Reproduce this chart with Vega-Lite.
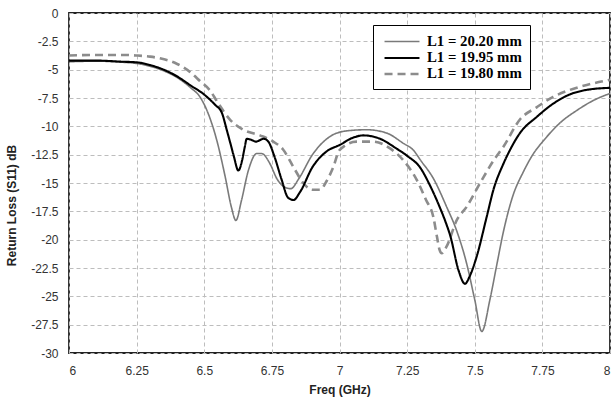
{
  "$schema": "https://vega.github.io/schema/vega-lite/v6.json",
  "width": 541,
  "height": 340,
  "autosize": {"type": "none"},
  "padding": {"left": 69, "top": 13, "right": 4, "bottom": 50},
  "background": "white",
  "config": {
    "view": {"stroke": "#222", "strokeWidth": 1.8},
    "font": "Liberation Sans"
  },
  "data": {
    "values": [
      {"f": 6.0, "db": -4.3, "s": "L1 = 20.20 mm"},
      {"f": 6.1, "db": -4.25, "s": "L1 = 20.20 mm"},
      {"f": 6.2, "db": -4.35, "s": "L1 = 20.20 mm"},
      {"f": 6.25, "db": -4.45, "s": "L1 = 20.20 mm"},
      {"f": 6.3, "db": -4.7, "s": "L1 = 20.20 mm"},
      {"f": 6.35, "db": -5.1, "s": "L1 = 20.20 mm"},
      {"f": 6.4, "db": -5.7, "s": "L1 = 20.20 mm"},
      {"f": 6.45, "db": -6.6, "s": "L1 = 20.20 mm"},
      {"f": 6.484, "db": -7.4, "s": "L1 = 20.20 mm"},
      {"f": 6.51, "db": -8.6, "s": "L1 = 20.20 mm"},
      {"f": 6.546, "db": -11.2, "s": "L1 = 20.20 mm"},
      {"f": 6.577, "db": -14.4, "s": "L1 = 20.20 mm"},
      {"f": 6.6, "db": -17.1, "s": "L1 = 20.20 mm"},
      {"f": 6.617, "db": -18.3, "s": "L1 = 20.20 mm"},
      {"f": 6.638, "db": -16.5, "s": "L1 = 20.20 mm"},
      {"f": 6.663, "db": -13.9, "s": "L1 = 20.20 mm"},
      {"f": 6.694, "db": -12.4, "s": "L1 = 20.20 mm"},
      {"f": 6.712, "db": -12.4, "s": "L1 = 20.20 mm"},
      {"f": 6.743, "db": -13.3, "s": "L1 = 20.20 mm"},
      {"f": 6.768, "db": -14.6, "s": "L1 = 20.20 mm"},
      {"f": 6.8, "db": -15.4, "s": "L1 = 20.20 mm"},
      {"f": 6.82, "db": -15.5, "s": "L1 = 20.20 mm"},
      {"f": 6.85, "db": -14.6, "s": "L1 = 20.20 mm"},
      {"f": 6.9, "db": -12.5, "s": "L1 = 20.20 mm"},
      {"f": 6.965, "db": -10.9, "s": "L1 = 20.20 mm"},
      {"f": 7.027, "db": -10.4, "s": "L1 = 20.20 mm"},
      {"f": 7.1, "db": -10.3, "s": "L1 = 20.20 mm"},
      {"f": 7.175, "db": -10.6, "s": "L1 = 20.20 mm"},
      {"f": 7.236, "db": -11.5, "s": "L1 = 20.20 mm"},
      {"f": 7.273, "db": -12.1, "s": "L1 = 20.20 mm"},
      {"f": 7.3, "db": -13.0, "s": "L1 = 20.20 mm"},
      {"f": 7.347, "db": -14.6, "s": "L1 = 20.20 mm"},
      {"f": 7.396, "db": -17.1, "s": "L1 = 20.20 mm"},
      {"f": 7.433, "db": -19.2, "s": "L1 = 20.20 mm"},
      {"f": 7.47, "db": -22.1, "s": "L1 = 20.20 mm"},
      {"f": 7.5, "db": -25.3, "s": "L1 = 20.20 mm"},
      {"f": 7.526, "db": -28.1, "s": "L1 = 20.20 mm"},
      {"f": 7.556, "db": -25.3, "s": "L1 = 20.20 mm"},
      {"f": 7.58, "db": -22.4, "s": "L1 = 20.20 mm"},
      {"f": 7.605, "db": -19.4, "s": "L1 = 20.20 mm"},
      {"f": 7.64, "db": -16.2, "s": "L1 = 20.20 mm"},
      {"f": 7.68, "db": -14.0, "s": "L1 = 20.20 mm"},
      {"f": 7.72, "db": -12.3, "s": "L1 = 20.20 mm"},
      {"f": 7.753, "db": -11.3, "s": "L1 = 20.20 mm"},
      {"f": 7.815, "db": -9.7, "s": "L1 = 20.20 mm"},
      {"f": 7.877, "db": -8.6, "s": "L1 = 20.20 mm"},
      {"f": 7.94, "db": -7.7, "s": "L1 = 20.20 mm"},
      {"f": 8.0, "db": -7.1, "s": "L1 = 20.20 mm"},

      {"f": 6.0, "db": -3.75, "s": "L1 = 19.80 mm"},
      {"f": 6.1, "db": -3.7, "s": "L1 = 19.80 mm"},
      {"f": 6.2, "db": -3.7, "s": "L1 = 19.80 mm"},
      {"f": 6.25, "db": -3.75, "s": "L1 = 19.80 mm"},
      {"f": 6.3, "db": -3.85, "s": "L1 = 19.80 mm"},
      {"f": 6.336, "db": -4.0, "s": "L1 = 19.80 mm"},
      {"f": 6.4, "db": -4.5, "s": "L1 = 19.80 mm"},
      {"f": 6.447, "db": -5.2, "s": "L1 = 19.80 mm"},
      {"f": 6.484, "db": -6.0, "s": "L1 = 19.80 mm"},
      {"f": 6.52, "db": -6.8, "s": "L1 = 19.80 mm"},
      {"f": 6.55, "db": -7.9, "s": "L1 = 19.80 mm"},
      {"f": 6.595, "db": -9.4, "s": "L1 = 19.80 mm"},
      {"f": 6.644, "db": -10.3, "s": "L1 = 19.80 mm"},
      {"f": 6.706, "db": -10.8, "s": "L1 = 19.80 mm"},
      {"f": 6.755, "db": -11.35, "s": "L1 = 19.80 mm"},
      {"f": 6.79, "db": -12.0, "s": "L1 = 19.80 mm"},
      {"f": 6.83, "db": -13.6, "s": "L1 = 19.80 mm"},
      {"f": 6.866, "db": -15.0, "s": "L1 = 19.80 mm"},
      {"f": 6.9, "db": -15.6, "s": "L1 = 19.80 mm"},
      {"f": 6.928, "db": -15.6, "s": "L1 = 19.80 mm"},
      {"f": 6.953, "db": -14.8, "s": "L1 = 19.80 mm"},
      {"f": 6.977, "db": -13.6, "s": "L1 = 19.80 mm"},
      {"f": 7.0, "db": -12.1, "s": "L1 = 19.80 mm"},
      {"f": 7.063, "db": -11.35, "s": "L1 = 19.80 mm"},
      {"f": 7.125, "db": -11.35, "s": "L1 = 19.80 mm"},
      {"f": 7.187, "db": -11.95, "s": "L1 = 19.80 mm"},
      {"f": 7.236, "db": -13.0, "s": "L1 = 19.80 mm"},
      {"f": 7.285, "db": -14.7, "s": "L1 = 19.80 mm"},
      {"f": 7.32, "db": -16.5, "s": "L1 = 19.80 mm"},
      {"f": 7.347, "db": -18.0, "s": "L1 = 19.80 mm"},
      {"f": 7.36, "db": -19.7, "s": "L1 = 19.80 mm"},
      {"f": 7.37, "db": -20.9, "s": "L1 = 19.80 mm"},
      {"f": 7.378, "db": -21.2, "s": "L1 = 19.80 mm"},
      {"f": 7.396, "db": -20.6, "s": "L1 = 19.80 mm"},
      {"f": 7.433, "db": -18.3, "s": "L1 = 19.80 mm"},
      {"f": 7.47, "db": -17.1, "s": "L1 = 19.80 mm"},
      {"f": 7.52, "db": -15.0, "s": "L1 = 19.80 mm"},
      {"f": 7.57, "db": -13.0, "s": "L1 = 19.80 mm"},
      {"f": 7.606, "db": -11.8, "s": "L1 = 19.80 mm"},
      {"f": 7.667, "db": -9.4, "s": "L1 = 19.80 mm"},
      {"f": 7.73, "db": -8.3, "s": "L1 = 19.80 mm"},
      {"f": 7.79, "db": -7.4, "s": "L1 = 19.80 mm"},
      {"f": 7.85, "db": -6.8, "s": "L1 = 19.80 mm"},
      {"f": 7.914, "db": -6.35, "s": "L1 = 19.80 mm"},
      {"f": 8.0, "db": -5.9, "s": "L1 = 19.80 mm"},

      {"f": 6.0, "db": -4.2, "s": "L1 = 19.95 mm"},
      {"f": 6.1, "db": -4.2, "s": "L1 = 19.95 mm"},
      {"f": 6.2, "db": -4.3, "s": "L1 = 19.95 mm"},
      {"f": 6.25, "db": -4.35, "s": "L1 = 19.95 mm"},
      {"f": 6.3, "db": -4.6, "s": "L1 = 19.95 mm"},
      {"f": 6.35, "db": -5.0, "s": "L1 = 19.95 mm"},
      {"f": 6.4, "db": -5.6, "s": "L1 = 19.95 mm"},
      {"f": 6.45, "db": -6.4, "s": "L1 = 19.95 mm"},
      {"f": 6.5, "db": -7.2, "s": "L1 = 19.95 mm"},
      {"f": 6.54, "db": -8.1, "s": "L1 = 19.95 mm"},
      {"f": 6.565, "db": -8.8, "s": "L1 = 19.95 mm"},
      {"f": 6.583, "db": -10.3, "s": "L1 = 19.95 mm"},
      {"f": 6.6, "db": -11.8, "s": "L1 = 19.95 mm"},
      {"f": 6.61, "db": -12.7, "s": "L1 = 19.95 mm"},
      {"f": 6.626, "db": -13.9, "s": "L1 = 19.95 mm"},
      {"f": 6.64, "db": -13.0, "s": "L1 = 19.95 mm"},
      {"f": 6.65, "db": -11.8, "s": "L1 = 19.95 mm"},
      {"f": 6.657, "db": -11.1, "s": "L1 = 19.95 mm"},
      {"f": 6.675, "db": -11.2, "s": "L1 = 19.95 mm"},
      {"f": 6.69, "db": -11.35, "s": "L1 = 19.95 mm"},
      {"f": 6.72, "db": -11.1, "s": "L1 = 19.95 mm"},
      {"f": 6.737, "db": -11.35, "s": "L1 = 19.95 mm"},
      {"f": 6.76, "db": -12.7, "s": "L1 = 19.95 mm"},
      {"f": 6.786, "db": -14.7, "s": "L1 = 19.95 mm"},
      {"f": 6.81, "db": -16.3, "s": "L1 = 19.95 mm"},
      {"f": 6.83, "db": -16.5, "s": "L1 = 19.95 mm"},
      {"f": 6.854, "db": -15.8, "s": "L1 = 19.95 mm"},
      {"f": 6.9, "db": -13.6, "s": "L1 = 19.95 mm"},
      {"f": 6.953, "db": -12.2, "s": "L1 = 19.95 mm"},
      {"f": 7.0, "db": -11.65, "s": "L1 = 19.95 mm"},
      {"f": 7.05, "db": -11.0, "s": "L1 = 19.95 mm"},
      {"f": 7.088, "db": -10.8, "s": "L1 = 19.95 mm"},
      {"f": 7.15, "db": -11.1, "s": "L1 = 19.95 mm"},
      {"f": 7.21, "db": -11.95, "s": "L1 = 19.95 mm"},
      {"f": 7.25, "db": -12.6, "s": "L1 = 19.95 mm"},
      {"f": 7.3, "db": -13.7, "s": "L1 = 19.95 mm"},
      {"f": 7.33, "db": -15.0, "s": "L1 = 19.95 mm"},
      {"f": 7.37, "db": -17.1, "s": "L1 = 19.95 mm"},
      {"f": 7.39, "db": -18.3, "s": "L1 = 19.95 mm"},
      {"f": 7.41, "db": -19.7, "s": "L1 = 19.95 mm"},
      {"f": 7.44, "db": -22.7, "s": "L1 = 19.95 mm"},
      {"f": 7.464, "db": -23.9, "s": "L1 = 19.95 mm"},
      {"f": 7.48, "db": -23.3, "s": "L1 = 19.95 mm"},
      {"f": 7.507, "db": -21.5, "s": "L1 = 19.95 mm"},
      {"f": 7.544, "db": -18.0, "s": "L1 = 19.95 mm"},
      {"f": 7.569, "db": -15.6, "s": "L1 = 19.95 mm"},
      {"f": 7.606, "db": -13.3, "s": "L1 = 19.95 mm"},
      {"f": 7.63, "db": -12.1, "s": "L1 = 19.95 mm"},
      {"f": 7.667, "db": -10.6, "s": "L1 = 19.95 mm"},
      {"f": 7.73, "db": -9.15, "s": "L1 = 19.95 mm"},
      {"f": 7.79, "db": -8.0, "s": "L1 = 19.95 mm"},
      {"f": 7.85, "db": -7.2, "s": "L1 = 19.95 mm"},
      {"f": 7.91, "db": -6.8, "s": "L1 = 19.95 mm"},
      {"f": 8.0, "db": -6.6, "s": "L1 = 19.95 mm"}
    ]
  },
  "mark": {"type": "line", "interpolate": "monotone", "clip": true},
  "encoding": {
    "x": {
      "field": "f",
      "type": "quantitative",
      "scale": {"domain": [6, 8], "nice": false, "zero": false},
      "axis": {
        "values": [6, 6.25, 6.5, 6.75, 7, 7.25, 7.5, 7.75, 8],
        "labelExpr": "'' + datum.value",
        "title": "Freq (GHz)",
        "titleFontWeight": "bold",
        "titleFontSize": 12,
        "titleColor": "#222",
        "titlePadding": 8,
        "labelFontSize": 12,
        "labelColor": "#333",
        "labelPadding": 12,
        "domain": false,
        "ticks": false,
        "grid": true,
        "gridColor": "#bdbdbd",
        "gridDash": [4, 3],
        "gridWidth": 1
      }
    },
    "y": {
      "field": "db",
      "type": "quantitative",
      "scale": {"domain": [-30, 0], "nice": false},
      "axis": {
        "values": [0, -2.5, -5, -7.5, -10, -12.5, -15, -17.5, -20, -22.5, -25, -27.5, -30],
        "labelExpr": "'' + datum.value",
        "title": "Return Loss (S11) dB",
        "titleFontWeight": "bold",
        "titleFontSize": 12,
        "titleColor": "#222",
        "titleX": -51,
        "titleY": 192,
        "titleAngle": -90,
        "labelFontSize": 12,
        "labelColor": "#333",
        "labelPadding": 11,
        "domain": false,
        "ticks": false,
        "grid": true,
        "gridColor": "#bdbdbd",
        "gridDash": [4, 3],
        "gridWidth": 1
      }
    },
    "color": {
      "field": "s",
      "type": "nominal",
      "scale": {
        "domain": ["L1 = 20.20 mm", "L1 = 19.95 mm", "L1 = 19.80 mm"],
        "range": ["#7a7a7a", "#000000", "#8c8c8c"]
      },
      "legend": {
        "orient": "none",
        "legendX": 304,
        "legendY": 12,
        "title": null,
        "symbolType": "M-0.73,0H3.93",
        "symbolSize": 225,
        "symbolFillColor": "transparent",
        "labelFont": "Liberation Serif",
        "labelFontWeight": "bold",
        "labelFontSize": 14.8,
        "labelColor": "#000",
        "labelOffset": 28,
        "rowPadding": 0,
        "strokeColor": "#000",
        "fillColor": "white",
        "padding": 8,
        "offset": 0
      }
    },
    "strokeDash": {
      "field": "s",
      "type": "nominal",
      "scale": {
        "domain": ["L1 = 20.20 mm", "L1 = 19.95 mm", "L1 = 19.80 mm"],
        "range": [[1, 0], [1, 0], [8, 5]]
      },
      "legend": null
    },
    "strokeWidth": {
      "field": "s",
      "type": "ordinal",
      "scale": {
        "domain": ["L1 = 20.20 mm", "L1 = 19.95 mm", "L1 = 19.80 mm"],
        "range": [1.6, 2.6, 2]
      },
      "legend": null
    },
    "order": {"field": "f", "type": "quantitative"}
  }
}
